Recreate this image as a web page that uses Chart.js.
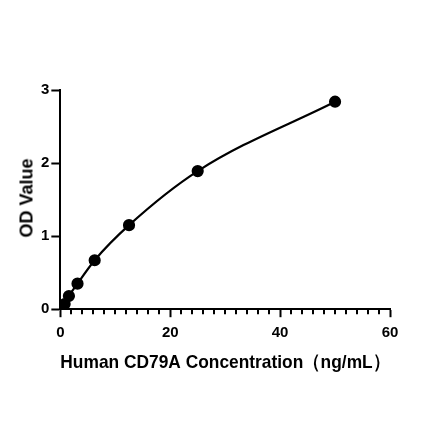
<!DOCTYPE html>
<html>
<head>
<meta charset="utf-8">
<script src="https://cdn.jsdelivr.net/npm/chart.js@4"></script>
<style>
  html, body { margin: 0; padding: 0; background: #fff; }
  #wrap { position: relative; width: 440px; height: 441px; }
  canvas { display: block; }
  #ytitle {
    position: absolute; left: 27px; top: 198px;
    transform: translate(-50%, -50%) rotate(-90deg);
    font: bold 18px "Liberation Sans", Arial, sans-serif;
    color: #000; white-space: nowrap;
  }
</style>
</head>
<body>
<div id="wrap">
  <canvas id="curve" width="440" height="441"></canvas>
  <div id="ytitle">OD Value</div>
</div>
<script>
// Standard curve values
const concentrations = [0, 0.78, 1.56, 3.125, 6.25, 12.5, 25, 50];
const odValues = [0.03, 0.07, 0.18, 0.35, 0.67, 1.15, 1.89, 2.84];
const xTickLabels = [0, 20, 40, 60];
const yTickLabels = [0, 1, 2, 3];
const xMinorStep = 2;

const FONT = '"Liberation Sans", Arial, sans-serif';

const points = concentrations.map((c, i) => ({ x: c, y: odValues[i] }));

// short minor ticks under the x axis, placed with the x scale
const minorTicks = {
    id: 'minorTicks',
    afterDraw(chart) {
        const sx = chart.scales.x;
        const c = chart.ctx;
        const y0 = chart.chartArea.bottom;
        c.save();
        c.strokeStyle = '#000';
        c.lineWidth = 2;
        for (let v = sx.min; v <= sx.max; v += xMinorStep) {
            if (xTickLabels.includes(v)) continue;
            const px = Math.round(sx.getPixelForValue(v));
            c.beginPath();
            c.moveTo(px, y0);
            c.lineTo(px, y0 + 5);
            c.stroke();
        }
        c.restore();
    }
};

const ctx = document.getElementById('curve').getContext('2d');
new Chart(ctx, {
    type: 'scatter',
    data: {
        datasets: [{
            data: points,
            showLine: true,
            borderColor: '#000',
            backgroundColor: '#000',
            borderWidth: 2.2,
            pointRadius: 5,
            pointHoverRadius: 5,
            cubicInterpolationMode: 'monotone'
        }]
    },
    options: {
        responsive: false,
        animation: false,
        devicePixelRatio: 1,
        layout: { padding: { left: 39, right: 50, top: 90, bottom: 63 } },
        plugins: { legend: { display: false }, tooltip: { enabled: false } },
        scales: {
            x: {
                type: 'linear',
                min: 0,
                max: 60,
                border: { color: '#000', width: 2 },
                grid: { display: true, drawOnChartArea: false, drawTicks: true, tickLength: 8, tickColor: '#000', tickWidth: 2 },
                ticks: {
                    stepSize: 20,
                    autoSkip: false,
                    maxRotation: 0,
                    color: '#000',
                    padding: 7,
                    font: { family: FONT, size: 15, weight: 'bold' },
                    callback: v => xTickLabels.includes(v) ? String(v) : ''
                },
                title: {
                    display: true,
                    text: 'Human CD79A Concentration（ng/mL）',
                    color: '#000',
                    font: { family: FONT, size: 19, weight: 'bold' },
                    padding: { top: 2 }
                }
            },
            y: {
                type: 'linear',
                min: 0,
                max: 3,
                border: { color: '#000', width: 2 },
                grid: { display: true, drawOnChartArea: false, drawTicks: true, tickLength: 9, tickColor: '#000', tickWidth: 2 },
                ticks: {
                    stepSize: 1,
                    color: '#000',
                    padding: 2,
                    font: { family: FONT, size: 15, weight: 'bold' },
                    callback: v => yTickLabels.includes(v) ? String(v) : ''
                }
            }
        }
    },
    plugins: [minorTicks]
});
</script>
</body>
</html>
